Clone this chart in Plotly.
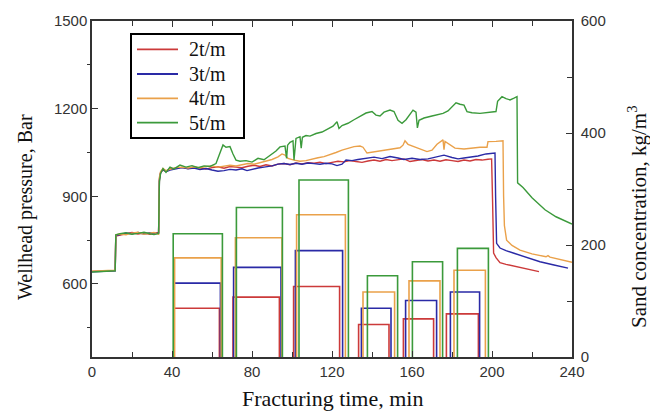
import plotly.graph_objects as go

# ---- wellhead pressure records (time in min, pressure in bar) ----
red_t = [0, 4, 8, 11.6, 11.9, 14, 17, 20, 23, 26, 29, 31, 33.3, 33.7, 34.3, 35.5, 37, 39, 42, 45,
         48, 51, 54, 57, 60, 63, 66, 69, 72, 75, 78, 81, 84, 87, 90, 93, 96, 99, 102, 105,
         108, 111, 114, 117, 120, 123, 126, 129, 132, 135, 138, 141, 144, 147, 150, 153, 156, 159, 162, 165,
         168, 171, 174, 177, 180, 183, 186, 189, 192, 195, 198, 199.8, 200.3, 200.8, 202, 204, 207, 211, 215, 219,
         223.5]
red_p = [643, 644, 645, 646, 764, 768, 772, 776, 771, 774, 770, 773, 776, 960, 982, 990, 986, 994, 996, 999,
         995, 1000, 997, 993, 998, 1001, 996, 1002, 1000, 998, 1003, 1006, 1002, 1008, 1004, 1010, 1012, 1008, 1014, 1011,
         1015, 1013, 1017, 1012, 1016, 1020, 1018, 1022, 1019, 1016, 1021, 1024, 1020, 1026, 1022, 1025, 1028, 1019, 1022, 1026,
         1021, 1024, 1020, 1025, 1022, 1019, 1024, 1021, 1026, 1024, 1027, 1028, 880, 706, 690, 673, 667, 661, 655, 648,
         642]

blue_t = [0, 4, 8, 11.6, 11.9, 14, 17, 20, 23, 26, 29, 31, 33.3, 33.7, 34.3, 35.5, 37, 39, 42, 45,
          48, 51, 54, 57, 60, 63, 66, 69, 72, 75, 77.5, 80, 83, 86, 90, 93, 96, 99, 102, 105,
          108, 111, 114, 117, 120, 122.5, 125, 127, 130, 133, 137, 141, 145, 149, 153, 156, 160, 164, 168, 172,
          176, 180, 183, 186, 190, 193, 197, 201.5, 201.8, 202.3, 204, 207, 211, 217, 224, 231, 238]
blue_p = [642, 643, 645, 645, 766, 770, 774, 772, 776, 771, 775, 772, 774, 955, 980, 992, 984, 990, 995, 998,
          994, 997, 992, 995, 990, 986, 988, 992, 990, 994, 988, 993, 997, 1000, 1004, 1010, 1012, 1009, 1013, 1010,
          1014, 1012, 1010, 1013, 1011, 1005, 1010, 1024, 1022, 1026, 1030, 1034, 1029, 1036, 1031, 1026, 1030, 1026, 1028, 1035,
          1041, 1033, 1028, 1031, 1034, 1038, 1045, 1048, 900, 739, 723, 714, 705, 692, 676, 665, 654]

orange_t = [0, 4, 8, 11.6, 11.9, 14, 17, 20, 23, 26, 29, 31, 33.3, 33.7, 34.3, 35.5, 37, 39, 42, 45,
            48, 51, 54, 57, 60, 63, 66, 69, 72, 75, 78, 81, 84, 87, 90, 93, 95, 96.5, 98, 101,
            104, 107, 110, 113, 116, 119, 122, 125, 128, 131, 134, 135.5, 137.5, 141, 145.5, 150, 154, 155.5, 156.5, 158,
            161.5, 164, 167.5, 170, 172.5, 175.5, 176, 176.5, 179, 181.5, 186, 190, 194, 197.5, 198, 202, 205.5, 205.8, 206.2, 207.3,
            210, 214, 220, 227, 228, 229, 234, 240]
orange_p = [644, 644, 646, 647, 768, 771, 768, 774, 777, 770, 773, 776, 770, 965, 985, 995, 988, 993, 998, 1000,
            997, 1001, 998, 1002, 1004, 1000, 1003, 1006, 1004, 1008, 1012, 1010, 1016, 1020, 1026, 1035, 1045, 1041, 1030, 1024,
            1020, 1022, 1028, 1032, 1036, 1042, 1050, 1058, 1064, 1070, 1072, 1068, 1048, 1052, 1058, 1062, 1066, 1075, 1090, 1078,
            1068, 1062, 1053, 1058, 1078, 1093, 1060, 1088, 1075, 1065, 1062, 1065, 1068, 1068, 1087, 1088, 1090, 900, 800, 750,
            732, 716, 703, 693, 697, 692, 683, 674]

green_t = [0, 4, 8, 11.6, 11.9, 14, 17, 20, 23, 26, 29, 31, 33.3, 33.7, 34.3, 35.5, 37, 39, 41, 44,
           47, 50, 53, 56, 59, 62, 63.5, 65.5, 67, 69, 70.5, 72, 74, 77, 80, 83, 86, 89, 92, 94,
           96.5, 97.3, 97.8, 99, 100.5, 101, 102, 104, 104.6, 105.2, 107, 109, 112, 115, 118, 120.5, 122.5, 123.5, 125, 128,
           131, 134, 137, 140, 142, 144, 146, 149, 151, 153, 155, 157, 160.5, 162, 162.7, 163.5, 166, 170, 175.5, 178,
           180, 182, 184, 186, 187.5, 190, 194, 198, 202, 202.8, 205, 207, 209, 211, 212.5, 212.8, 215.5, 220, 226.5, 232,
           240]
green_p = [641, 643, 644, 645, 768, 772, 775, 770, 773, 777, 772, 769, 773, 950, 978, 995, 982, 1000, 994, 1007,
           1000, 1005, 998, 1004, 1002, 1012, 1040, 1076, 1068, 1070, 1045, 1024, 1020, 1022, 1017, 1030, 1025, 1040, 1055, 1069,
           1072, 1030, 1075, 1085, 1090, 1024, 1098, 1104, 1065, 1102, 1108, 1106, 1115, 1120, 1130, 1140, 1155, 1132, 1142, 1150,
           1162, 1175, 1185, 1190, 1178, 1175, 1188, 1195, 1190, 1160, 1150, 1162, 1195, 1188, 1134, 1160, 1168, 1175, 1184, 1192,
           1207, 1220, 1215, 1212, 1190, 1186, 1184, 1186, 1190, 1225, 1241, 1234, 1230, 1236, 1241, 946, 930, 895, 854, 830,
           805]

# ---- sand stages: start time, end time (min), concentration (kg/m3) ----
red_start = [41.0, 70.5, 100.8, 133.3, 155.7, 177.2]
red_end = [63.7, 93.7, 123.8, 148.5, 170.8, 193.2]
red_conc = [87, 107, 126, 58, 68, 77]

blue_start = [41.0, 70.8, 101.7, 134.7, 156.8, 179.2]
blue_end = [64.2, 94.5, 125.3, 149.5, 172.3, 193.8]
blue_conc = [132, 160, 190, 87, 101, 116]

orange_start = [41.3, 71.7, 102.3, 135.5, 158.5, 181.0]
orange_end = [64.6, 95.0, 126.7, 151.3, 174.0, 196.7]
orange_conc = [177, 213, 254, 116, 136, 155]

green_start = [40.6, 72.2, 103.5, 137.7, 160.2, 182.7]
green_end = [65.2, 95.2, 128.2, 152.8, 175.3, 198.2]
green_conc = [220, 267, 316, 145, 170, 194]

series_names = ["2t/m", "3t/m", "4t/m", "5t/m"]
series_colors = ["#cc3a3a", "#2a2aa6", "#eaa14a", "#3b9a3b"]

x_ticks = [0, 40, 80, 120, 160, 200, 240]
x_minor = [20, 60, 100, 140, 180, 220]
y_ticks = [600, 900, 1200, 1500]
y_minor = [450, 750, 1050, 1350]
y2_ticks = [0, 200, 400, 600]
y2_minor = [100, 300, 500]

pressure = [(red_t, red_p), (blue_t, blue_p), (orange_t, orange_p), (green_t, green_p)]
stages = [(red_start, red_end, red_conc), (blue_start, blue_end, blue_conc),
          (orange_start, orange_end, orange_conc), (green_start, green_end, green_conc)]

fig = go.Figure()

# open-bottom rectangles for each sand stage, on the right axis
for name, color, (s_list, e_list, c_list) in zip(series_names, series_colors, stages):
    xs, ys = [], []
    for s, e, c in zip(s_list, e_list, c_list):
        xs += [s, s, e, e, None]
        ys += [0, c, c, 0, None]
    fig.add_trace(go.Scatter(x=xs, y=ys, mode="lines", yaxis="y2", name=name,
                             line=dict(color=color, width=1.6), showlegend=False,
                             hoverinfo="skip"))

# pressure curves, on the left axis
for name, color, (t, p) in zip(series_names, series_colors, pressure):
    fig.add_trace(go.Scatter(x=t, y=p, mode="lines", name=name,
                             line=dict(color=color, width=1.4), showlegend=False))

X0, X1, Y0, Y1 = 92, 572, 21, 357
W, H = 650, 412


def px_x(px):
    return (px - X0) / (X1 - X0)


def px_y(py):
    return (Y1 - py) / (Y1 - Y0)


tick_font = dict(family="Liberation Sans, Arial, sans-serif", size=15, color="#333333")
serif = "Liberation Serif, Times New Roman, serif"
axis_col = "#333333"

fig.update_layout(
    width=W, height=H, autosize=False,
    margin=dict(l=X0, r=W - X1, t=Y0, b=H - Y1),
    paper_bgcolor="white", plot_bgcolor="white",
    xaxis=dict(range=[0, 240], tickmode="array", tickvals=x_ticks,
               ticks="inside", ticklen=6, tickwidth=1.2, tickcolor=axis_col,
               minor=dict(tickmode="array", tickvals=x_minor,
                          ticks="inside", ticklen=5, tickwidth=1.2, tickcolor=axis_col),
               showline=True, linecolor=axis_col, linewidth=1.5, mirror="ticks",
               showgrid=False, zeroline=False, tickfont=tick_font),
    yaxis=dict(range=[350, 1500], tickmode="array", tickvals=y_ticks,
               ticks="inside", ticklen=6, tickwidth=1.2, tickcolor=axis_col,
               minor=dict(tickmode="array", tickvals=y_minor,
                          ticks="outside", ticklen=3, tickwidth=1.2, tickcolor=axis_col),
               showline=True, linecolor=axis_col, linewidth=1.5,
               showgrid=False, zeroline=False, tickfont=tick_font),
    yaxis2=dict(range=[0, 600], tickmode="array", tickvals=y2_ticks,
                overlaying="y", side="right", anchor="x",
                ticks="inside", ticklen=6, tickwidth=1.2, tickcolor=axis_col,
                minor=dict(tickmode="array", tickvals=y2_minor,
                           ticks="inside", ticklen=5, tickwidth=1.2, tickcolor=axis_col),
                showline=True, linecolor=axis_col, linewidth=1.5,
                showgrid=False, zeroline=False, tickfont=tick_font,
                ticklabelstandoff=4),
)

annotations = [
    dict(text="Fracturing time, min", x=0.5, y=px_y(398), xref="paper", yref="paper",
         showarrow=False, xanchor="center", yanchor="middle",
         font=dict(family=serif, size=22, color="#111111")),
    dict(text="Wellhead pressure, Bar", x=px_x(25), y=px_y(207), xref="paper", yref="paper",
         showarrow=False, textangle=-90, xanchor="center", yanchor="middle",
         font=dict(family=serif, size=20, color="#111111")),
    dict(text="Sand concentration, kg/m<sup>3</sup>", x=px_x(638), y=px_y(217),
         xref="paper", yref="paper", showarrow=False, textangle=-90,
         xanchor="center", yanchor="middle",
         font=dict(family=serif, size=21, color="#111111")),
]

shapes = [dict(type="rect", xref="paper", yref="paper",
               x0=px_x(131), x1=px_x(244), y0=px_y(138), y1=px_y(34),
               line=dict(color="black", width=2), fillcolor="white", layer="above")]

legend_rows = [49.3, 74.0, 98.3, 122.7]
for name, color, row in zip(series_names, series_colors, legend_rows):
    shapes.append(dict(type="line", xref="paper", yref="paper",
                       x0=px_x(137), x1=px_x(178), y0=px_y(row), y1=px_y(row),
                       line=dict(color=color, width=1.8), layer="above"))
    annotations.append(dict(text=name, x=px_x(187), y=px_y(row), xref="paper", yref="paper",
                            showarrow=False, xanchor="left", yanchor="middle",
                            font=dict(family=serif, size=20, color="#111111")))

fig.update_layout(annotations=annotations, shapes=shapes)

fig.write_html("out.html")
